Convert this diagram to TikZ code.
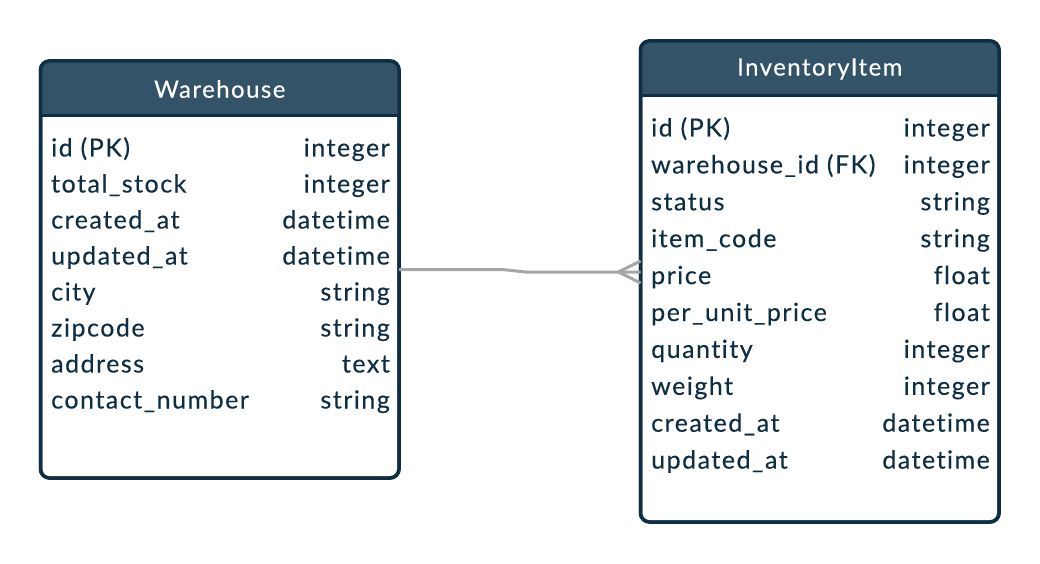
\documentclass[tikz,border=0pt]{standalone}
\usepackage{fontspec}
\setmainfont{Lato}
\newfontfamily\erfont[LetterSpace=6,FakeBold=0.25,Ligatures=NoCommon]{Lato}
\definecolor{navy}{HTML}{0E2E44}
\definecolor{headfill}{HTML}{335468}
\definecolor{linkgray}{HTML}{A6A6A6}
\begin{document}
\begin{tikzpicture}
		[	x=1pt,y=-1pt,
		tablebox/.style={rectangle,draw=navy,line width=3.5pt,fill=white,rounded corners=9pt,outer sep=0pt,minimum width=358.5pt,inner sep=0pt},
		title/.style={text=white,font=\erfont\fontsize{24}{28}\selectfont},
		colname/.style={anchor=base west,inner sep=0pt,text=navy,font=\erfont\fontsize{25}{28}\selectfont},
		coltype/.style={anchor=base east,inner sep=0pt,text=navy,font=\erfont\fontsize{25}{28}\selectfont},
		link/.style={draw=linkgray,line width=3pt}
		]
		\useasboundingbox (0,0) rectangle (1040,564);
		\node[tablebox,minimum height=417pt] (wh) at (219.75,269.5){};
		\node[tablebox,minimum height=481pt] (inv) at (819.75,281.5){};
		% headers
		\begin{scope}
		\clip[rounded corners=9pt] (wh.north west) rectangle (wh.south east);
		\fill[headfill] (wh.north west) rectangle ([yshift=-54.5pt]wh.north east);
		\end{scope}
		\begin{scope}
		\clip[rounded corners=9pt] (inv.north west) rectangle (inv.south east);
		\fill[headfill] (inv.north west) rectangle ([yshift=-54.5pt]inv.north east);
		\end{scope}
		\draw[navy,line width=3.5pt] ([yshift=-54.5pt]wh.north west) -- ([yshift=-54.5pt]wh.north east);
		\draw[navy,line width=3.5pt] ([yshift=-54.5pt]inv.north west) -- ([yshift=-54.5pt]inv.north east);
		\draw[navy,line width=3.5pt,rounded corners=9pt] (wh.north west) rectangle (wh.south east);
		\draw[navy,line width=3.5pt,rounded corners=9pt] (inv.north west) rectangle (inv.south east);
		\node[title] (whtitle) at (219.75,89){Warehouse};
		\node[title] (invtitle) at (819.75,69){InventoryItem};

\node[colname] (w1) at (51,156.5){id (PK)};
\node[colname] (w2) at (51,192.5){total\_stock};
\node[colname] (w3) at (51,228.5){created\_at};
\node[colname] (w4) at (51,264.5){updated\_at};
\node[colname] (w5) at (51,300.5){city};
\node[colname] (w6) at (51,336.5){zipcode};
\node[colname] (w7) at (51,372.5){address};
\node[colname] (w8) at (51,408.5){contact\_number};
\node[coltype] (w1t) at (390,156.5){integer};
\node[coltype] (w2t) at (390,192.5){integer};
\node[coltype] (w3t) at (390,228.5){datetime};
\node[coltype] (w4t) at (390,264.5){datetime};
\node[coltype] (w5t) at (390,300.5){string};
\node[coltype] (w6t) at (390,336.5){string};
\node[coltype] (w7t) at (390,372.5){text};
\node[coltype] (w8t) at (390,408.5){string};

\node[colname] (i1) at (651,136.5){id (PK)};
\node[colname] (i2) at (651,173.4){warehouse\_id (FK)};
\node[colname] (i3) at (651,210.3){status};
\node[colname] (i4) at (651,247.2){item\_code};
\node[colname] (i5) at (651,284.1){price};
\node[colname] (i6) at (651,321){per\_unit\_price};
\node[colname] (i7) at (651,357.9){quantity};
\node[colname] (i8) at (651,394.8){weight};
\node[colname] (i9) at (651,431.7){created\_at};
\node[colname] (i10) at (651,468.6){updated\_at};
\node[coltype] (i1t) at (990,136.5){integer};
\node[coltype] (i2t) at (990,173.4){integer};
\node[coltype] (i3t) at (990,210.3){string};
\node[coltype] (i4t) at (990,247.2){string};
\node[coltype] (i5t) at (990,284.1){float};
\node[coltype] (i6t) at (990,321){float};
\node[coltype] (i7t) at (990,357.9){integer};
\node[coltype] (i8t) at (990,394.8){integer};
\node[coltype] (i9t) at (990,431.7){datetime};
\node[coltype] (i10t) at (990,468.6){datetime};

		% relation
		\coordinate (foot) at ([yshift=9.5pt]inv.west);
		\coordinate (tip) at ([xshift=-22pt]foot);
		\draw[link] (wh.east) -- ++(103,0) -- ([xshift=-115pt]foot) -- (foot);
		\draw[link] ([yshift=11pt]foot) -- (tip) -- ([yshift=-11pt]foot);
	\end{tikzpicture}
\end{document}
